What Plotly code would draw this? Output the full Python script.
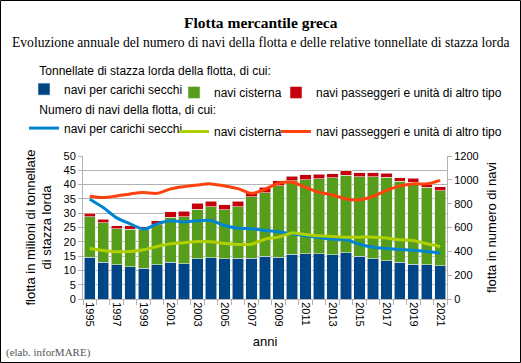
import plotly.graph_objects as go

years = list(range(1995, 2022))

# tonnellate di stazza lorda (milioni)
gt_secchi = [14.6, 12.8, 11.9, 11.2, 10.7, 11.9, 12.8, 12.4, 14.0, 14.5, 14.0, 14.2, 14.3, 14.9,
             14.6, 15.7, 15.9, 15.9, 15.5, 16.2, 14.9, 14.0, 13.3, 12.8, 12.1, 11.9, 11.7]
gt_cisterne = [14.1, 13.9, 12.6, 13.2, 13.5, 14.1, 15.8, 16.3, 17.4, 17.8, 17.2, 18.1, 21.4, 22.3,
               25.0, 25.6, 25.8, 26.2, 26.9, 27.1, 27.9, 28.8, 29.3, 28.4, 28.8, 27.2, 26.1]
gt_altro = [1.2, 1.1, 1.1, 1.2, 1.1, 1.3, 1.9, 2.0, 2.1, 1.9, 1.8, 1.8, 1.5, 1.8,
            1.8, 1.7, 1.7, 1.6, 1.4, 1.6, 1.4, 1.4, 1.4, 1.2, 1.4, 1.0, 1.5]

# numero di navi
n_secchi = [837, 767, 681, 631, 586, 631, 656, 647, 656, 659, 617, 594, 589, 575,
            564, 547, 530, 516, 502, 497, 460, 435, 424, 416, 410, 399, 385]
n_cisterne = [424, 407, 396, 399, 413, 441, 463, 472, 483, 480, 466, 458, 460, 502,
              519, 553, 541, 530, 525, 519, 519, 519, 511, 497, 491, 463, 441]
n_altro = [862, 851, 865, 882, 893, 887, 924, 943, 957, 966, 949, 926, 887, 921,
           971, 980, 938, 896, 873, 840, 832, 860, 910, 949, 966, 966, 996]

series_names = ["navi per carichi secchi", "navi cisterna", "navi passeggeri e unità di altro tipo"]
header_gt = "Tonnellate di stazza lorda della flotta, di cui:"
header_n = "Numero di navi della flotta, di cui:"

W, H = 521, 363
L, R, T, B = 83, 74, 156, 64
pw, ph = W - L - R, H - T - B

sans = "Liberation Sans, Arial, sans-serif"
serif = "Liberation Serif, Times New Roman, serif"
grid = "#b3b3b3"

fig = go.Figure()
bar_cols = ["#004586", "#579d1c", "#c5000b"]
line_cols = ["#0084d1", "#aecf00", "#ff420e"]
for i, (vals, col) in enumerate(zip([gt_secchi, gt_cisterne, gt_altro], bar_cols)):
    fig.add_trace(go.Bar(x=years, y=vals, name=series_names[i],
                         marker=dict(color=col, line=dict(color="#e8e8e8", width=0.6)),
                         width=0.84, legend="legend" if i == 0 else f"legend{i + 1}", hoverinfo="skip"))
for i, (vals, col) in enumerate(zip([n_secchi, n_cisterne, n_altro], line_cols)):
    fig.add_trace(go.Scatter(x=years, y=vals, name=series_names[i], mode="lines", yaxis="y2",
                             line=dict(color=col, width=3, shape="spline", smoothing=0.8),
                             legend=f"legend{i + 4}", hoverinfo="skip"))

legfont = dict(family=sans, size=12, color="#000")
item_x = [24, 174, 276]   # left edge of legend boxes (px)
row_top = [60, 98]        # top of legend rows with header (px)
legends = {}
for r in range(2):
    for c in range(3):
        k = r * 3 + c
        key = "legend" if k == 0 else f"legend{k + 1}"
        d = dict(orientation="h", xref="container", yref="container", x=item_x[c] / W,
                 xanchor="left", yanchor="top", font=legfont, bgcolor="rgba(0,0,0,0)",
                 itemclick=False, itemdoubleclick=False)
        if c == 0:
            d["y"] = 1 - (row_top[r] - (1 if r == 0 else 0)) / H
            d["title"] = dict(text="&nbsp;&nbsp;&nbsp;&nbsp;" + (header_gt if r == 0 else header_n),
                              side="top", font=legfont)
        else:
            d["y"] = 1 - (row_top[r] + 19 - (1 if r == 0 else 0)) / H
        legends[key] = d

fig.update_layout(
    width=W, height=H,
    margin=dict(l=L, r=R, t=T, b=B, autoexpand=False),
    paper_bgcolor="white", plot_bgcolor="white",
    barmode="stack",
    font=dict(family=sans, size=11, color="#000"),
    showlegend=True,
    xaxis=dict(range=[1994.5, 2021.5], tickvals=years[::2], ticktext=[str(y) for y in years[::2]],
               tickangle=90, ticks="", showgrid=False, showline=True, linecolor=grid, linewidth=1,
               tickfont=dict(family=sans, size=11, color="#000"), zeroline=False, automargin=False,
               minor=dict(tickvals=[y - 0.5 for y in years] + [years[-1] + 0.5], ticks="outside", ticklen=5,
                          tickcolor=grid, tickwidth=1, showgrid=False),
               title=dict(text="anni", font=dict(family=sans, size=13, color="#000"), standoff=11)),
    yaxis=dict(range=[0, 50], dtick=5, showgrid=True, gridcolor=grid, gridwidth=1, zeroline=False,
               showline=True, linecolor=grid, ticks="outside", ticklen=4, tickcolor=grid, automargin=False,
               tickfont=dict(family=sans, size=11, color="#000"),
               title=dict(text="flotta in milioni di tonnellate<br>di stazza lorda",
                          font=dict(family=sans, size=13, color="#000"), standoff=8)),
    yaxis2=dict(range=[0, 1200], dtick=200, overlaying="y", side="right", showgrid=False, zeroline=False,
                showline=True, linecolor=grid, ticks="outside", ticklen=4, tickcolor=grid, automargin=False,
                tickfont=dict(family=sans, size=11, color="#000"),
                title=dict(text="flotta in numero di navi", font=dict(family=sans, size=13, color="#000"), standoff=9)),
    annotations=[
        dict(text="<b>Flotta mercantile greca</b>", xref="paper", yref="paper", x=(W / 2 - L) / pw,
             y=1 + (T - 22) / ph, xanchor="center", yanchor="middle", showarrow=False,
             font=dict(family=serif, size=15.5, color="#000")),
        dict(text="Evoluzione annuale del numero di navi della flotta e delle relative tonnellate di stazza lorda",
             xref="paper", yref="paper", x=(W / 2 - L) / pw, y=1 + (T - 42) / ph, xanchor="center",
             yanchor="middle", showarrow=False, font=dict(family=serif, size=13.6, color="#000")),
        dict(text="(elab. inforMARE)", xref="paper", yref="paper",
             x=-(L - 4) / pw, y=-(352 - (H - B)) / ph, xanchor="left", yanchor="middle",
             showarrow=False, font=dict(family=serif, size=11, color="#555")),
    ],
    shapes=[dict(type="rect", xref="paper", yref="paper",
                 x0=-(L - 0.5) / pw, x1=1 + (R - 0.5) / pw, y0=-(B - 0.5) / ph, y1=1 + (T - 0.5) / ph,
                 line=dict(color="#000", width=1), fillcolor="rgba(0,0,0,0)", layer="below")],
    **legends,
)

fig.write_html("out.html", config={"displayModeBar": False},
               post_script="document.body.style.margin='0';document.body.style.overflow='hidden';")
